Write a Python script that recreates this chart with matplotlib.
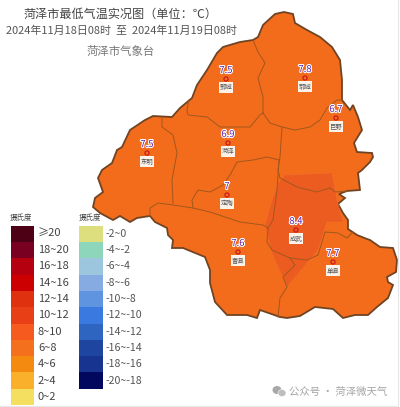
import matplotlib
matplotlib.use('Agg')
import matplotlib.pyplot as plt
from matplotlib.patches import Polygon, Rectangle, Ellipse
import matplotlib.patheffects as pe

plt.rcParams['font.family'] = ['Noto Sans CJK SC', 'DejaVu Sans']

# Stations
stations = ['鄄城', '郓城', '巨野', '东明', '菏泽', '定陶', '成武', '曹县', '单县']
temps = ['7.5', '7.8', '6.7', '7.5', '6.9', '7', '8.4', '7.6', '7.7']
st_x = [226, 305, 336, 147, 228, 227, 296, 238, 333]
st_y = [79, 78, 118, 153, 143, 195, 230, 252, 262]

# City outline, picture pixels
outline = [(275, 14), (284, 12), (293, 14), (295, 23), (307, 30), (320, 37), (332, 47), (340, 60),
           (342, 80), (342, 100), (350, 110), (353, 105), (358, 117), (362, 130), (354, 143),
           (357, 152), (372, 153), (373, 157), (370, 162), (362, 170), (358, 173), (360, 190),
           (347, 191), (339, 194), (345, 198), (338, 204), (343, 213), (348, 220), (348, 229),
           (357, 235), (367, 239), (370, 240), (380, 247), (393, 248), (397, 260), (396, 272),
           (387, 277), (388, 282), (393, 285), (388, 298), (377, 307), (368, 315), (355, 315),
           (343, 318), (333, 309), (315, 307), (300, 316), (287, 318), (280, 317), (260, 310),
           (257, 318), (247, 315), (227, 315), (215, 302), (210, 283), (210, 270), (205, 257),
           (183, 248), (172, 248), (173, 240), (168, 235), (167, 228), (155, 222), (150, 216),
           (137, 218), (130, 222), (120, 216), (113, 220), (100, 213), (93, 207), (95, 198),
           (103, 192), (98, 178), (102, 170), (112, 163), (117, 150), (122, 147), (130, 130),
           (145, 120), (153, 116), (172, 117), (180, 108), (192, 98), (197, 85), (207, 70),
           (217, 53), (223, 47), (240, 42), (253, 40), (258, 37), (263, 25)]

# County borders, picture pixels
borders = [
    [(253, 40), (258, 52), (265, 63), (258, 78), (263, 97), (263, 113)],
    [(189, 100), (187, 110), (188, 115), (207, 117), (220, 127), (250, 127), (260, 115), (263, 113)],
    [(263, 113), (270, 123), (282, 127), (295, 130), (310, 127), (320, 120), (327, 108), (337, 100), (342, 100)],
    [(282, 127), (280, 157), (278, 170), (280, 178), (297, 187), (317, 192), (330, 188), (335, 192), (347, 191)],
    [(279, 160), (267, 157), (253, 160), (237, 162), (230, 175), (223, 185), (210, 192), (198, 190), (192, 200), (193, 208)],
    [(279, 160), (277, 190), (273, 220), (268, 228)],
    [(150, 216), (150, 208), (158, 203), (173, 205), (193, 208), (210, 212), (240, 222), (263, 225), (268, 228),
     (267, 242), (272, 250), (290, 258), (295, 265), (283, 277), (287, 287), (280, 298), (278, 317)],
    [(290, 258), (307, 260), (318, 255), (325, 232), (338, 233), (347, 238), (353, 232)],
    [(162, 117), (162, 127), (173, 135), (177, 153), (172, 180), (173, 203)],
]

# 8~10 area
warm_area = [(285, 175), (332, 173), (337, 200), (343, 222), (327, 222), (318, 250), (307, 263),
             (287, 287), (272, 253), (265, 225), (272, 200), (278, 183)]

# Legend
warm_labels = ['≥20', '18~20', '16~18', '14~16', '12~14', '10~12', '8~10', '6~8', '4~6', '2~4', '0~2']
warm_colors = ['#4d0015', '#7a0022', '#b5000f', '#cc0000', '#df3010', '#e83f17', '#f65a1e', '#f4701d',
               '#f58a10', '#fbb02c', '#f5df60']
cold_labels = ['-2~0', '-4~-2', '-6~-4', '-8~-6', '-10~-8', '-12~-10', '-14~-12', '-16~-14', '-18~-16', '-20~-18']
cold_colors = ['#dddf7e', '#8dd5bb', '#9cc5de', '#85abe2', '#5f94e0', '#3a7ae0', '#2e65c0', '#1e46a0',
               '#163490', '#02085e']

fig = plt.figure(figsize=(4, 4.07), dpi=100, facecolor='white')
ax = fig.add_axes([0, 0, 1, 1])
ax.set_xlim(0, 400)
ax.set_ylim(407, 0)
ax.axis('off')

# Map
ax.add_patch(Polygon(outline, closed=True, fc='#f26c1b', ec='#6f4424', lw=1.3, zorder=1))
ax.add_patch(Polygon(warm_area, closed=True, fc='#ec5c20', ec='#f27d3a', lw=0.5, ls=':', zorder=2))
for b in borders:
    ax.plot([p[0] for p in b], [p[1] for p in b], color='#a2571d', lw=0.7, zorder=3)

# Stations
halo = [pe.withStroke(linewidth=1.5, foreground='white')]
ax.scatter(st_x, st_y, s=9, facecolor='none', edgecolor='#c8141c', linewidth=0.8, zorder=5)
for name, t, x, y in zip(stations, temps, st_x, st_y):
    ax.text(x, y - 8.5, t, color='#5e1fa8', fontsize=6.8, ha='center', va='center', path_effects=halo, zorder=6)
    ax.text(x, y + 8.5, name, color='#555555', fontsize=4.6, ha='center', va='center', zorder=6,
            bbox=dict(fc='#fbf3ea', ec='none', pad=0.8))

# Titles
ax.text(120, 14, '菏泽市最低气温实况图（单位：℃）', color='#444444', fontsize=8.7, ha='center', va='center')
ax.text(121, 31, '2024年11月18日08时  至  2024年11月19日08时', color='#555555', fontsize=7.9, ha='center', va='center')
ax.text(121, 51, '菏泽市气象台', color='#777777', fontsize=8.2, ha='center', va='center')

# Legend boxes
cell_h = 16.3
leg_top = 225.7
for i, (lab, col) in enumerate(zip(warm_labels, warm_colors)):
    ax.add_patch(Rectangle((10.7, leg_top + i * cell_h), 23.5, cell_h, fc=col, ec='none', zorder=2))
    ax.text(38, leg_top + (i + 0.5) * cell_h, lab, color='#444444', fontsize=8, ha='left', va='center')
for i, (lab, col) in enumerate(zip(cold_labels, cold_colors)):
    ax.add_patch(Rectangle((79.3, leg_top + i * cell_h), 24, cell_h, fc=col, ec='none', zorder=2))
    ax.text(106, leg_top + (i + 0.5) * cell_h, lab, color='#555555', fontsize=7.6, ha='left', va='center')
ax.text(21.5, 218, '摄氏度', color='#444444', fontsize=5.4, ha='center', va='center')
ax.text(90, 218, '摄氏度', color='#444444', fontsize=5.4, ha='center', va='center')

# Watermark
ax.add_patch(Ellipse((277, 390), 9, 8, fc='#a8a8a8', ec='none', zorder=2))
ax.add_patch(Ellipse((282, 393), 8, 7, fc='#bdbdbd', ec='white', lw=0.4, zorder=3))
ax.text(289, 391.5, '公众号 · 菏泽微天气', color='#a5a5a5', fontsize=7.5, ha='left', va='center')

# Faint picture edge
ax.plot([0, 398, 398], [405.5, 405.5, 0], color='#e6e6e6', lw=0.8, zorder=1)

fig.savefig('out.png', dpi=100, facecolor='white')
